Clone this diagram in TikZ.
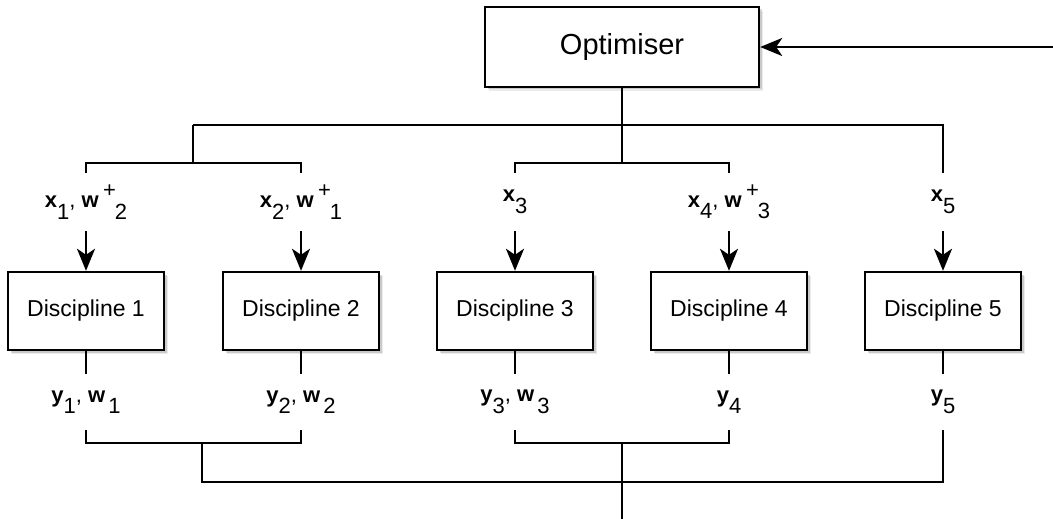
\documentclass[tikz,border=0pt]{standalone}
\usepackage{fontspec}
\setmainfont{Liberation Sans}
\usetikzlibrary{arrows.meta,shadows}
% index helpers for the variable labels
\newcommand{\vb}[1]{\textbf{#1}}
\newcommand{\lowidx}[1]{\raisebox{-0.52em}{#1}}
\newcommand{\highidx}[1]{\kern0.2em\raisebox{0.45em}{#1}\kern-0.05em}
\begin{document}
\begin{tikzpicture}[x=1pt,y=-1pt,line width=2.4pt,
  boxshadow/.style={
    drop shadow={shadow xshift=4pt,shadow yshift=-4pt,opacity=0.08,fill=black},
    drop shadow={shadow xshift=2.5pt,shadow yshift=-2.5pt,opacity=0.14,fill=black}},
  optbox/.style={draw,fill=white,minimum width=274pt,minimum height=80pt,inner sep=0pt,
    font=\fontsize{29}{34}\selectfont,boxshadow},
  discbox/.style={draw,fill=white,minimum width=156pt,minimum height=78pt,inner sep=0pt,
    font=\fontsize{23}{27}\selectfont,boxshadow},
  varlbl/.style={inner sep=0pt,font=\fontsize{22}{26}\selectfont},
  inlbl/.style={varlbl,minimum height=56pt},
  outlbl/.style={varlbl,minimum height=54pt},
  arr/.style={-{Stealth[length=22pt,width=18pt,inset=6pt]}}]
\useasboundingbox (0,0) rectangle (1053,519);

% optimiser and disciplines
\node[optbox] (opt) at (622,47) {Optimiser};
\foreach \i/\x in {1/86,2/301,3/515,4/729,5/943}
  \node[discbox] (d\i) at (\x,311) {Discipline \i};

% inputs to the disciplines
\node[inlbl] (in1) at (86,202)  {\vb{x}\lowidx{1}, \vb{w}\highidx{+}\lowidx{2}};
\node[inlbl] (in2) at (301,202) {\vb{x}\lowidx{2}, \vb{w}\highidx{+}\lowidx{1}};
\node[inlbl] (in3) at (515,202) {\vb{x}\lowidx{3}};
\node[inlbl] (in4) at (729,202) {\vb{x}\lowidx{4}, \vb{w}\highidx{+}\lowidx{3}};
\node[inlbl] (in5) at (943,202) {\vb{x}\lowidx{5}};

% outputs of the disciplines
\node[outlbl] (out1) at (86,402)  {\vb{y}\lowidx{1}, \vb{w}\kern0.15em\lowidx{1}};
\node[outlbl] (out2) at (301,402) {\vb{y}\lowidx{2}, \vb{w}\kern0.15em\lowidx{2}};
\node[outlbl] (out3) at (515,402) {\vb{y}\lowidx{3}, \vb{w}\kern0.15em\lowidx{3}};
\node[outlbl] (out4) at (729,402) {\vb{y}\lowidx{4}};
\node[outlbl] (out5) at (943,402) {\vb{y}\lowidx{5}};

% distribution tree from the optimiser
\coordinate (ta) at (622,125);
\coordinate (tl) at (193,125);
\coordinate (tlb) at (193,163);
\coordinate (tmb) at (622,163);
\draw (opt.south) -- (ta);
\draw (tl) -- (in5.north |- ta) -- (in5.north);
\draw (tl) -- (tlb);
\draw (ta) -- (tmb);
\draw (in1.north) -- (in1.north |- tlb) -- (in2.north |- tlb) -- (in2.north);
\draw (in3.north) -- (in3.north |- tmb) -- (in4.north |- tmb) -- (in4.north);
\foreach \i in {1,...,5}
  \draw[arr] (in\i.south) -- (d\i.north);

% collection tree from the disciplines
\foreach \i in {1,...,5}
  \draw (d\i.south) -- (out\i.north);
\coordinate (bl) at (202,443);
\coordinate (bm) at (622,443);
\coordinate (bb) at (202,482);
\coordinate (bend) at (622,519);
\draw (out1.south) -- (out1.south |- bl) -- (out2.south |- bl) -- (out2.south);
\draw (out3.south) -- (out3.south |- bm) -- (out4.south |- bm) -- (out4.south);
\draw (bl) -- (bb) -- (out5.south |- bb) -- (out5.south);
\draw (bm) -- (bend);

% feedback into the optimiser
\coordinate (fb) at (1053,47);
\draw[arr] (fb) -- (opt.east);
\end{tikzpicture}
\end{document}
